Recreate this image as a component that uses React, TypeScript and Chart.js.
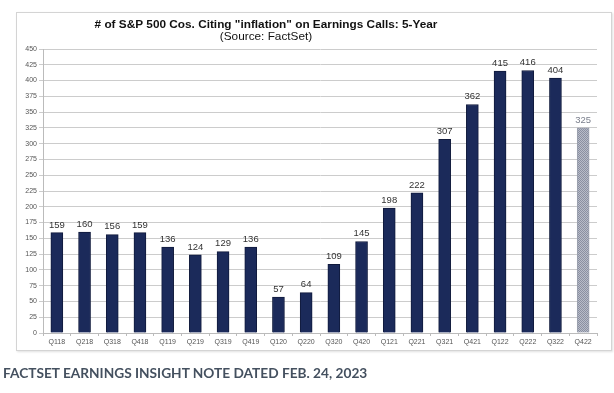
import React, { useEffect, useRef } from "react";
import { Chart, registerables } from "chart.js";

Chart.register(...registerables);

const categories = ["Q118","Q218","Q318","Q418","Q119","Q219","Q319","Q419","Q120","Q220","Q320","Q420","Q121","Q221","Q321","Q421","Q122","Q222","Q322","Q422"];
const counts = [159,160,156,159,136,124,129,136,57,64,109,145,198,222,307,362,415,416,404,325];
const titleText = '# of S&P 500 Cos. Citing "inflation" on Earnings Calls: 5-Year';
const subtitleText = "(Source: FactSet)";
const footerText = "FACTSET EARNINGS INSIGHT NOTE DATED FEB. 24, 2023";

function makePattern(): CanvasPattern | string {
  const c = document.createElement("canvas");
  c.width = 2; c.height = 2;
  const ctx = c.getContext("2d");
  if (!ctx) return "#a0a6b4";
  ctx.fillStyle = "#b8bcc8"; ctx.fillRect(0, 0, 2, 2);
  ctx.fillStyle = "#8a90a2"; ctx.fillRect(0, 0, 1, 1); ctx.fillRect(1, 1, 1, 1);
  const p = ctx.createPattern(c, "repeat");
  return p || "#a0a6b4";
}

export default function App() {
  const ref = useRef<HTMLCanvasElement>(null);
  useEffect(() => {
    if (!ref.current) return;
    const pat = makePattern();
    const last = counts.length - 1;
    const labelsPlugin = {
      id: "vals",
      afterDatasetsDraw(chart: any) {
        const ctx = chart.ctx;
        const meta = chart.getDatasetMeta(0);
        ctx.save();
        ctx.font = "9.5px 'Liberation Sans', Arial, sans-serif";
        ctx.textAlign = "center";
        ctx.textBaseline = "bottom";
        meta.data.forEach((el: any, i: number) => {
          ctx.fillStyle = i === last ? "#7a7f8c" : "#333333";
          ctx.fillText(String(counts[i]), el.x, el.y - 3);
        });
        ctx.restore();
      },
    };
    const titlePlugin = {
      id: "ttl",
      afterDraw(chart: any) {
        const ctx = chart.ctx;
        ctx.save();
        ctx.fillStyle = "#111111";
        ctx.textAlign = "center";
        ctx.textBaseline = "middle";
        ctx.font = "bold 11.8px 'Liberation Sans', Arial, sans-serif";
        ctx.fillText(titleText, 266, 25);
        ctx.font = "11.8px 'Liberation Sans', Arial, sans-serif";
        ctx.fillText(subtitleText, 266, 37);
        ctx.restore();
      },
    };
    const chart = new Chart(ref.current, {
      type: "bar",
      data: {
        labels: categories,
        datasets: [{
          data: counts,
          backgroundColor: counts.map((_, i) => (i === last ? pat : "#1b2a5a")) as any,
          borderColor: counts.map((_, i) => (i === last ? "#9ba0ae" : "#101a3c")),
          borderWidth: 1,
          barThickness: 12,
        }],
      },
      options: {
        responsive: false,
        animation: false,
        layout: { padding: { left: 16, right: 17, top: 49, bottom: 46 } },
        plugins: { legend: { display: false }, tooltip: { enabled: false }, title: { display: false } },
        scales: {
          x: {
            afterFit: (s: any) => { s.height = 14; },
            grid: { drawOnChartArea: false, offset: true, tickLength: 3, color: "#bbbbbb" },
            border: { color: "#bbbbbb" },
            ticks: { color: "#555555", font: { size: 7, family: "'Liberation Sans', Arial, sans-serif" }, padding: 2, maxRotation: 0, autoSkip: false },
          },
          y: {
            min: 0, max: 450,
            afterFit: (s: any) => { s.width = 27; },
            grid: { color: "#cccccc", tickLength: 4 },
            border: { color: "#bbbbbb" },
            ticks: { stepSize: 25, color: "#555555", font: { size: 7, family: "'Liberation Sans', Arial, sans-serif" }, padding: 2 },
          },
        },
      },
      plugins: [labelsPlugin, titlePlugin],
    });
    return () => chart.destroy();
  }, []);
  return (
    <div style={{ position: "fixed", left: 0, top: 0, width: 614, height: 393, background: "#ffffff", overflow: "hidden" }}>
      <div style={{ position: "absolute", left: 16, top: 12, width: 594, height: 337, border: "1px solid #d4d4d4", boxShadow: "1px 1px 2px #e0e0e0" }} />
      <canvas ref={ref} width={614} height={393} style={{ position: "absolute", left: 0, top: 0, width: 614, height: 393 }} />
      <div style={{ position: "absolute", left: 3, top: 364, fontFamily: "Lato, sans-serif", fontWeight: 700, fontSize: 13.7, color: "#44505f", whiteSpace: "nowrap", letterSpacing: 0 }}>{footerText}</div>
    </div>
  );
}
